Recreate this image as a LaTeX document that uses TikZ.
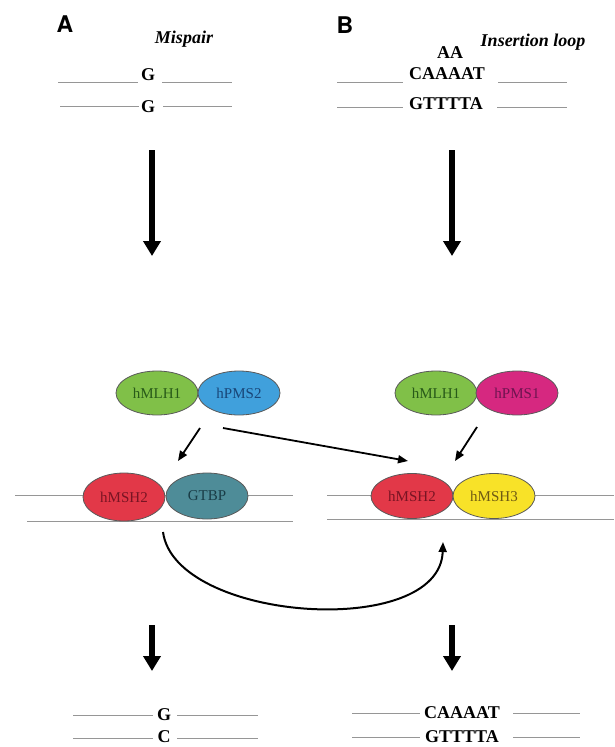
\documentclass[tikz,border=0pt]{standalone}
\usepackage{fontspec}
\setmainfont{Liberation Serif}
\newfontfamily\herosfont{TeX Gyre Heros}
\usetikzlibrary{arrows.meta,shapes.geometric}
\definecolor{mlhgreen}{RGB}{128,192,72}
\definecolor{pmsblue}{RGB}{64,160,220}
\definecolor{pmsmag}{RGB}{214,40,128}
\definecolor{mshred}{RGB}{226,56,72}
\definecolor{gtbpteal}{RGB}{78,140,152}
\definecolor{mshyel}{RGB}{248,226,40}
\definecolor{strandgray}{RGB}{150,150,150}
\definecolor{txgreen}{RGB}{40,90,25}
\definecolor{txblue}{RGB}{25,70,120}
\definecolor{txpurple}{RGB}{110,20,80}
\definecolor{txred}{RGB}{120,20,35}
\definecolor{txteal}{RGB}{25,60,70}
\definecolor{txolive}{RGB}{110,90,20}
\tikzset{
  dna/.style={font=\fontsize{18}{18}\selectfont\bfseries, inner sep=0pt},
  caption/.style={font=\fontsize{18}{18}\selectfont\bfseries\itshape, inner sep=0pt},
  panel/.style={font=\herosfont\fontsize{23}{23}\selectfont\bfseries, inner sep=0pt},
  prot/.style={ellipse, draw=black!65, line width=0.8pt, minimum width=82pt, minimum height=44pt, inner sep=0pt, font=\fontsize{15}{15}\selectfont},
  strand/.style={draw=strandgray, line width=1pt},
  bigarrow/.style={line width=6.5pt, -{Triangle[width=17pt,length=15pt]}},
  smallarrow/.style={line width=1.8pt, -{Triangle[width=8pt,length=10pt]}},
  curvearrow/.style={line width=2pt, -{Triangle[width=8pt,length=10pt]}}
}
\begin{document}
\begin{tikzpicture}[x=1pt,y=-1pt]
\useasboundingbox (0,0) rectangle (614,747);

% panel labels and captions
\node[panel] (pA) at (65,24) {A};
\node[panel] (pB) at (345,25) {B};
\node[caption] (mis) at (184,39) {Mispair};
\node[caption] (ins) at (533,42) {Insertion loop};

% top-left strands
\node[dna] (tlG1) at (148,75) {G};
\node[dna] (tlG2) at (148,107) {G};
\draw[strand] (58,82) -- (138,82);
\draw[strand] (162,82) -- (232,82);
\draw[strand] (60,106) -- (139,106);
\draw[strand] (163,106) -- (232,106);

% top-right strands
\node[dna] (trAA) at (450,53) {AA};
\node[dna] (trC) at (447,74) {CAAAAT};
\node[dna] (trG) at (446,104) {GTTTTA};
\draw[strand] (337,82) -- (403,82);
\draw[strand] (498,82) -- (567,82);
\draw[strand] (337,107) -- (403,107);
\draw[strand] (497,107) -- (567,107);

% big arrows top
\coordinate (a1s) at (152,150); \coordinate (a1e) at (152,256);
\coordinate (a2s) at (452,150); \coordinate (a2e) at (452,256);
\draw[bigarrow] (a1s) -- (a1e);
\draw[bigarrow] (a2s) -- (a2e);

% upper protein pairs
\node[prot, fill=mlhgreen, text=txgreen] (mlhL) at (157,393) {hMLH1};
\node[prot, fill=pmsblue, text=txblue] (pms2) at (239,393) {hPMS2};
\node[prot, fill=mlhgreen, text=txgreen] (mlhR) at (436,393) {hMLH1};
\node[prot, fill=pmsmag, text=txpurple] (pms1) at (517,393) {hPMS1};

% lower strands (behind)
\draw[strand] (15,495) -- (293,495);
\draw[strand] (27,521) -- (293,521);
\draw[strand] (327,495) -- (614,495);
\draw[strand] (327,519) -- (614,519);

% lower protein pairs
\node[prot, minimum height=48pt, fill=mshred, text=txred] (msh2L) at (124,497) {hMSH2};
\node[prot, minimum height=46pt, fill=gtbpteal, text=txteal] (gtbp) at (207,496) {GTBP};
\node[prot, minimum height=45pt, fill=mshred, text=txred] (msh2R) at (412,496) {hMSH2};
\node[prot, minimum height=45pt, fill=mshyel, text=txolive] (msh3) at (494,496) {hMSH3};

% small arrows
\coordinate (s1s) at (200,428); \coordinate (s1e) at (178,461);
\coordinate (s2s) at (223,428); \coordinate (s2e) at (408,461);
\coordinate (s3s) at (477,427); \coordinate (s3e) at (455,461);
\draw[smallarrow] (s1s) -- (s1e);
\draw[smallarrow] (s2s) -- (s2e);
\draw[smallarrow] (s3s) -- (s3e);

% curved arrow
\coordinate (c1) at (163,532);
\coordinate (c2) at (443,542);
\draw[curvearrow] (c1) .. controls (175,622) and (440,640) .. (c2);

% big arrows bottom
\coordinate (b1s) at (152,625); \coordinate (b1e) at (152,671);
\coordinate (b2s) at (452,625); \coordinate (b2e) at (452,671);
\draw[bigarrow] (b1s) -- (b1e);
\draw[bigarrow] (b2s) -- (b2e);

% bottom-left strands
\node[dna] (blG) at (164,715) {G};
\node[dna] (blC) at (164,737) {C};
\draw[strand] (73,715) -- (153,715);
\draw[strand] (177,715) -- (258,715);
\draw[strand] (73,738) -- (153,738);
\draw[strand] (177,738) -- (258,738);

% bottom-right strands
\node[dna] (brC) at (462,713) {CAAAAT};
\node[dna] (brG) at (462,737) {GTTTTA};
\draw[strand] (352,713) -- (420,713);
\draw[strand] (513,713) -- (580,713);
\draw[strand] (352,737) -- (420,737);
\draw[strand] (513,737) -- (580,737);
\end{tikzpicture}
\end{document}
